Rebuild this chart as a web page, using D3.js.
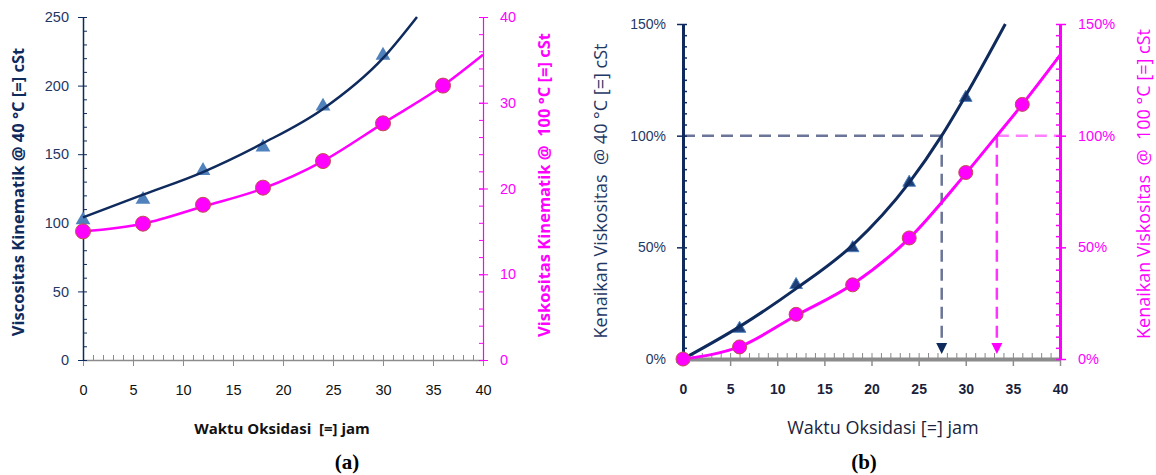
<!DOCTYPE html>
<html>
<head>
<meta charset="utf-8">
<script src="https://cdn.jsdelivr.net/npm/d3@7/dist/d3.min.js"></script>
<style>
  body { margin: 0; background: #fff; }
  svg { font-family: "Open Sans", Lato, sans-serif; }
  text { white-space: pre; }
</style>
</head>
<body>
<svg id="chart" width="1156" height="475"></svg>
<script>
// ---- data ----
const hours = [0, 6, 12, 18, 24, 30, 36];

// (a) kinematic viscosity, cSt
const visc40 = [102, 117, 138, 155, 185, 222];              // triangles, 0..30 h
const visc100 = [15.0, 15.9, 18.1, 20.1, 23.2, 27.6, 32.0]; // circles
const fitHours40 = [0, 6, 12, 18, 24, 30, 33.4];
const fit40 = [104, 120.5, 137, 158, 183, 220, 250];
const fitHours100 = [0, 6, 12, 18, 24, 30, 36, 40];
const fit100 = [15.0, 15.9, 17.9, 20.0, 23.2, 27.6, 32.0, 35.6];

// (b) viscosity rise, %
const rise40 = [0, 13.6, 33.2, 49.7, 79, 117];
const rise100 = [0, 5.4, 20, 33.2, 54.2, 83.5, 114];
const fitHoursRise40 = [0, 6, 12, 18, 24, 27.45, 30, 34.2];
const fitRise40 = [0, 14.5, 31.5, 51, 79, 100, 118, 150];
const fitHoursRise100 = [0, 6, 12, 18, 24, 30, 33.3, 36, 40];
const fitRise100 = [0, 5.5, 19.5, 33.5, 54, 83, 100, 114, 136];
const targetRise = 100;
const crossHours = [27.45, 33.3]; // where each fit reaches 100 %

// tick labels
const xTicks = [0, 5, 10, 15, 20, 25, 30, 35, 40];
const ticks40 = [0, 50, 100, 150, 200, 250];
const ticks100 = [0, 10, 20, 30, 40];
const ticksRise = [0, 50, 100, 150];

// colours
const navy = "#0f2a5c";
const navyText = "#1f3864";
const pink = "#ff00ff";
const gray = "#8c8c8c";

const svg = d3.select("#chart");
const zip = (xs, ys) => ys.map((v, i) => [xs[i], v]);

// ---------------- panel (a) ----------------
const xA = d3.scaleLinear().domain([0, 40]).range([83, 483]);
const yA40 = d3.scaleLinear().domain([0, 250]).range([360, 17]);
const yA100 = d3.scaleLinear().domain([0, 40]).range([360, 17]);

const a = svg.append("g");

// x axis: minor ticks up, major ticks across
a.append("g").attr("transform", "translate(0,360)")
  .call(d3.axisBottom(xA).tickValues(d3.range(0, 41, 1)).tickSize(-5).tickFormat(""))
  .call(g => g.select(".domain").remove());
const xAxA = a.append("g").attr("transform", "translate(0,360)")
  .call(d3.axisBottom(xA).tickValues(xTicks).tickSize(6).tickSizeOuter(0));
xAxA.selectAll(".tick line").attr("y1", -5);
a.selectAll(".tick line").attr("stroke", gray);
xAxA.select(".domain").attr("stroke", gray).attr("stroke-width", 1.5);
xAxA.selectAll("text").attr("y", 25).attr("font-size", 14.5).attr("fill", "#111");

// left axis
const yAxA = a.append("g").attr("transform", "translate(83,0)")
  .call(d3.axisLeft(yA40).tickValues(ticks40).tickSize(5).tickSizeOuter(0).tickPadding(9));
a.append("g").attr("transform", "translate(83,0)")
  .call(d3.axisLeft(yA40).tickValues(d3.range(0, 251, 10)).tickSize(-4).tickFormat(""))
  .call(g => g.select(".domain").remove())
  .selectAll("line").attr("stroke", navy);
yAxA.select(".domain").attr("stroke", navy).attr("stroke-width", 1.5);
yAxA.selectAll("line").attr("stroke", navy);
yAxA.selectAll("text").attr("font-size", 14.5).attr("fill", navyText);

// right axis
const yAxA2 = a.append("g").attr("transform", "translate(483,0)")
  .call(d3.axisRight(yA100).tickValues(ticks100).tickSize(5).tickSizeOuter(0).tickPadding(12));
yAxA2.selectAll(".tick line").attr("x1", -4);
a.append("g").attr("transform", "translate(483,0)")
  .call(d3.axisRight(yA100).tickValues(d3.range(0, 41, 2)).tickSize(-4).tickFormat(""))
  .call(g => g.select(".domain").remove())
  .selectAll("line").attr("stroke", pink);
yAxA2.select(".domain").attr("stroke", pink).attr("stroke-width", 1.2);
yAxA2.selectAll("line").attr("stroke", pink);
yAxA2.selectAll("text").attr("font-size", 14.5).attr("fill", pink);

// markers and fitted curves
a.selectAll(".tri").data(zip(hours, visc40)).join("path")
  .attr("class", "tri")
  .attr("d", d3.symbol(d3.symbolTriangle, 95))
  .attr("transform", d => `translate(${xA(d[0])},${yA40(d[1])})`)
  .attr("fill", "#4f81bd");

const lineA40 = d3.line().x(d => xA(d[0])).y(d => yA40(d[1])).curve(d3.curveMonotoneX);
const lineA100 = d3.line().x(d => xA(d[0])).y(d => yA100(d[1])).curve(d3.curveMonotoneX);
a.append("path").datum(zip(fitHours40, fit40)).attr("d", lineA40)
  .attr("fill", "none").attr("stroke", navy).attr("stroke-width", 2.5);
a.append("path").datum(zip(fitHours100, fit100)).attr("d", lineA100)
  .attr("fill", "none").attr("stroke", pink).attr("stroke-width", 2.5);

a.selectAll(".dot").data(zip(hours, visc100)).join("circle")
  .attr("class", "dot")
  .attr("cx", d => xA(d[0])).attr("cy", d => yA100(d[1])).attr("r", 7.5)
  .attr("fill", pink).attr("stroke", "#c0504d").attr("stroke-width", 1);

// titles
a.append("text").attr("x", 282).attr("y", 428).attr("text-anchor", "middle")
  .attr("dominant-baseline", "central").attr("font-size", 15).attr("font-weight", "bold")
  .attr("fill", "#111").text("Waktu Oksidasi  [=] jam");
a.append("text").attr("transform", "translate(17,192) rotate(-90)").attr("text-anchor", "middle")
  .attr("dominant-baseline", "central").attr("font-size", 16.5).attr("font-weight", "bold")
  .attr("fill", navy).text("Viscositas Kinematik @ 40 °C [=] cSt");
a.append("text").attr("transform", "translate(543,185) rotate(-90)").attr("text-anchor", "middle")
  .attr("dominant-baseline", "central").attr("font-size", 16.5).attr("font-weight", "bold")
  .attr("fill", pink).text("Viskositas Kinematik @  100 °C [=] cSt");

// ---------------- panel (b) ----------------
const xB = d3.scaleLinear().domain([0, 40]).range([683, 1060]);
const yB = d3.scaleLinear().domain([0, 150]).range([359, 24]);
const b = svg.append("g");
const pct = d => d + "%";

// dashed guides at 100 %
b.append("line")
  .attr("x1", xB(0)).attr("x2", xB(crossHours[0])).attr("y1", yB(targetRise)).attr("y2", yB(targetRise))
  .attr("stroke", "#6b7597").attr("stroke-width", 2.5).attr("stroke-dasharray", "12,7");
b.append("line")
  .attr("x1", xB(crossHours[0])).attr("x2", xB(crossHours[0])).attr("y1", yB(targetRise)).attr("y2", yB(0) - 14)
  .attr("stroke", "#6b7597").attr("stroke-width", 2.5).attr("stroke-dasharray", "12,7");
b.append("line")
  .attr("x1", xB(crossHours[1])).attr("x2", xB(40)).attr("y1", yB(targetRise)).attr("y2", yB(targetRise))
  .attr("stroke", "#ff80ff").attr("stroke-width", 2.5).attr("stroke-dasharray", "12,7");
b.append("line")
  .attr("x1", xB(crossHours[1])).attr("x2", xB(crossHours[1])).attr("y1", yB(targetRise)).attr("y2", yB(0) - 14)
  .attr("stroke", "#ff33ff").attr("stroke-width", 2.5).attr("stroke-dasharray", "12,7");
b.selectAll(".arrow").data(crossHours).join("path")
  .attr("class", "arrow")
  .attr("d", d => `M${xB(d) - 5.5},${yB(0) - 16}L${xB(d) + 5.5},${yB(0) - 16}L${xB(d)},${yB(0) - 5}Z`)
  .attr("fill", (d, i) => i === 0 ? navy : pink);

// x axis
b.append("g").attr("transform", "translate(0,359)")
  .call(d3.axisBottom(xB).tickValues(d3.range(0, 41, 1)).tickSize(-6).tickFormat(""))
  .call(g => g.select(".domain").remove())
  .selectAll("line").attr("stroke", "#888");
const xAxB = b.append("g").attr("transform", "translate(0,359)")
  .call(d3.axisBottom(xB).tickValues(xTicks).tickSize(7).tickSizeOuter(0));
xAxB.select(".domain").attr("stroke", gray).attr("stroke-width", 4);
xAxB.selectAll(".tick line").attr("stroke", gray).attr("stroke-width", 1.5);
xAxB.selectAll("text").attr("y", 25).attr("font-size", 14).attr("font-weight", "bold").attr("fill", "#1c1f3c");

// left axis
b.append("g").attr("transform", "translate(683,0)")
  .call(d3.axisLeft(yB).tickValues(d3.range(0, 151, 5)).tickSize(-4).tickFormat(""))
  .call(g => g.select(".domain").remove())
  .selectAll("line").attr("stroke", navy).attr("stroke-width", 1.5);
const yAxB = b.append("g").attr("transform", "translate(683,0)")
  .call(d3.axisLeft(yB).tickValues(ticksRise).tickSize(6).tickSizeOuter(0).tickPadding(11).tickFormat(pct));
yAxB.select(".domain").attr("stroke", navy).attr("stroke-width", 3);
yAxB.selectAll("line").attr("stroke", navy).attr("stroke-width", 1.5);
yAxB.selectAll("text").attr("font-size", 14).attr("fill", navyText);

// right axis
b.append("g").attr("transform", "translate(1060,0)")
  .call(d3.axisRight(yB).tickValues(d3.range(0, 151, 5)).tickSize(-4).tickFormat(""))
  .call(g => g.select(".domain").remove())
  .selectAll("line").attr("stroke", pink).attr("stroke-width", 1.5);
const yAxB2 = b.append("g").attr("transform", "translate(1060,0)")
  .call(d3.axisRight(yB).tickValues(ticksRise).tickSize(6).tickSizeOuter(0).tickPadding(12).tickFormat(pct));
yAxB2.select(".domain").attr("stroke", pink).attr("stroke-width", 3);
yAxB2.selectAll("line").attr("stroke", pink).attr("stroke-width", 1.5);
yAxB2.selectAll("text").attr("font-size", 14.5).attr("fill", pink);

// markers and fitted curves
const lineB = d3.line().x(d => xB(d[0])).y(d => yB(d[1])).curve(d3.curveMonotoneX);
b.selectAll(".tri").data(zip(hours, rise40)).join("path")
  .attr("class", "tri")
  .attr("d", d3.symbol(d3.symbolTriangle, 70))
  .attr("transform", d => `translate(${xB(d[0])},${yB(d[1])})`)
  .attr("fill", "#1f3f7a").attr("stroke", "#4f81bd").attr("stroke-width", 1);
b.append("path").datum(zip(fitHoursRise40, fitRise40)).attr("d", lineB)
  .attr("fill", "none").attr("stroke", navy).attr("stroke-width", 3);
b.append("path").datum(zip(fitHoursRise100, fitRise100)).attr("d", lineB)
  .attr("fill", "none").attr("stroke", pink).attr("stroke-width", 3);
b.selectAll(".dot").data(zip(hours, rise100)).join("circle")
  .attr("class", "dot")
  .attr("cx", d => xB(d[0])).attr("cy", d => yB(d[1])).attr("r", 7)
  .attr("fill", pink).attr("stroke", "#c0504d").attr("stroke-width", 1);

// titles
b.append("text").attr("x", 883).attr("y", 427).attr("text-anchor", "middle")
  .attr("dominant-baseline", "central").attr("font-size", 18)
  .attr("fill", "#1c1f3c").text("Waktu Oksidasi [=] jam");
b.append("text").attr("transform", "translate(600,191) rotate(-90)").attr("text-anchor", "middle")
  .attr("dominant-baseline", "central").attr("font-size", 18)
  .attr("fill", navyText).text("Kenaikan Viskositas  @ 40 °C [=] cSt");
b.append("text").attr("transform", "translate(1143,184) rotate(-90)").attr("text-anchor", "middle")
  .attr("dominant-baseline", "central").attr("font-size", 18)
  .attr("fill", pink).text("Kenaikan Viskositas  @  100 °C [=] cSt");

// panel captions
svg.selectAll(".caption").data(["(a)", "(b)"]).join("text")
  .attr("class", "caption")
  .attr("x", (d, i) => i === 0 ? 347 : 864).attr("y", 462)
  .attr("text-anchor", "middle").attr("dominant-baseline", "central")
  .attr("font-family", "'Liberation Serif', 'Times New Roman', serif")
  .attr("font-size", 21).attr("font-weight", "bold").attr("fill", "#000")
  .text(d => d);
</script>
</body>
</html>
